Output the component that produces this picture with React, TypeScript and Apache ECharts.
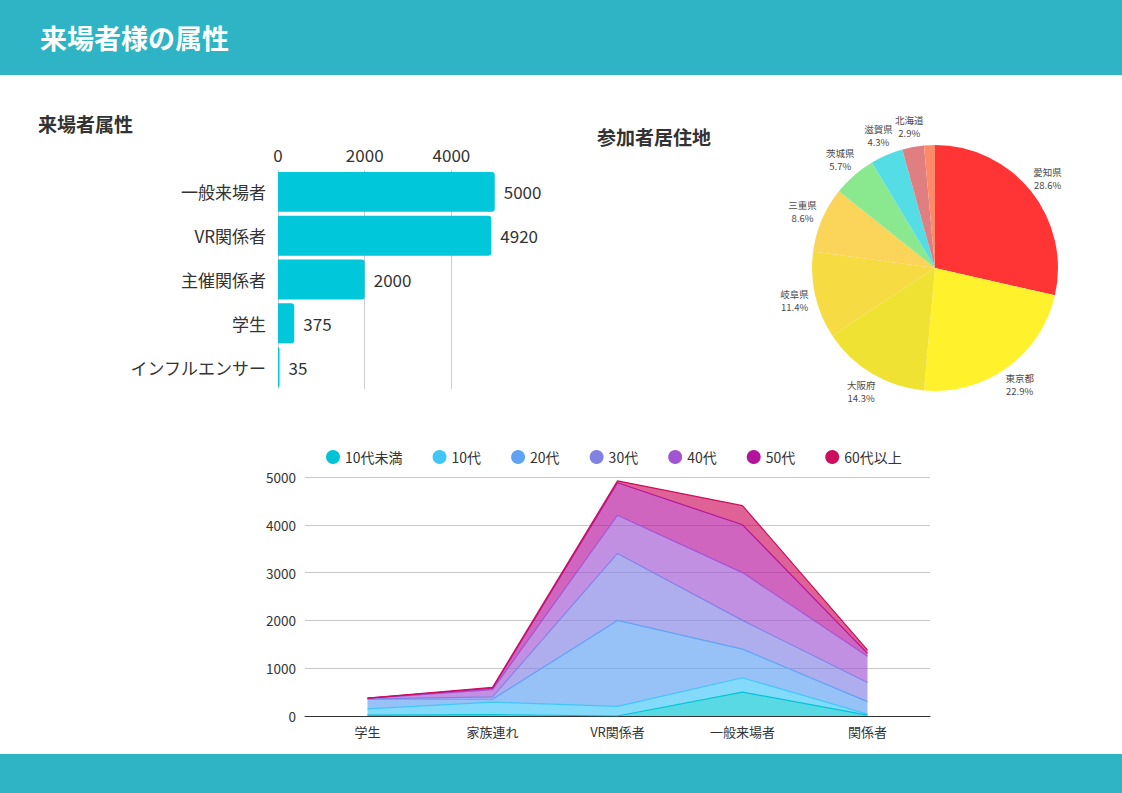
import React, { useEffect, useRef } from "react";
import * as echarts from "echarts";

const FONT = "'Noto Sans CJK JP', 'Noto Sans', sans-serif";

// Bar chart: 来場者属性
const barCategories = ["一般来場者", "VR関係者", "主催関係者", "学生", "インフルエンサー"];
const barValues = [5000, 4920, 2000, 375, 35];

// Pie chart: 参加者居住地
const pieNames = ["愛知県", "東京都", "大阪府", "岐阜県", "三重県", "茨城県", "滋賀県", "北海道", "その他"];
const pieValues = [20, 16, 10, 8, 6, 4, 3, 2, 1];
const pieColors = ["#ff3434", "#fff22c", "#f0e232", "#f6db42", "#fbd45a", "#8ae98f", "#55dde6", "#e07f82", "#ff8a6a"];

// Area chart: age breakdown
const areaCategories = ["学生", "家族連れ", "VR関係者", "一般来場者", "関係者"];
const ageNames = ["10代未満", "10代", "20代", "30代", "40代", "50代", "60代以上"];
const ageColors = ["#00c4d6", "#42c6f8", "#60a2f4", "#8282e6", "#a254d2", "#b5139c", "#cc0e5c"];
const age10u = [20, 30, 0, 500, 20];
const age10 = [130, 260, 200, 300, 20];
const age20 = [200, 60, 1800, 600, 260];
const age30 = [10, 50, 1400, 600, 400];
const age40 = [10, 150, 800, 1000, 550];
const age50 = [3, 30, 680, 1000, 60];
const age60 = [2, 20, 40, 400, 70];
const ageSeries = [age10u, age10, age20, age30, age40, age50, age60];

const TEAL = "#2eb4c4";

export default function App() {
  const ref = useRef<HTMLDivElement>(null);
  useEffect(() => {
    if (!ref.current) return;
    const chart = echarts.init(ref.current, undefined, { renderer: "svg" });
    const pieTotal = pieValues.reduce((a, b) => a + b, 0);
    const plain = (v: number) => String(v);
    const option: any = {
      animation: false,
      backgroundColor: "#ffffff",
      textStyle: { fontFamily: FONT },
      graphic: [
        { type: "rect", shape: { x: 0, y: 0, width: 1122, height: 75 }, style: { fill: TEAL }, silent: true },
        { type: "rect", shape: { x: 0, y: 754, width: 1122, height: 39 }, style: { fill: TEAL }, silent: true },
        {
          type: "text", x: 40, y: 37,
          style: { text: "来場者様の属性", fill: "#ffffff", font: `bold 27px ${FONT}`, textVerticalAlign: "middle" },
        },
        {
          type: "text", x: 38, y: 123,
          style: { text: "来場者属性", fill: "#333333", font: `bold 19px ${FONT}`, textVerticalAlign: "middle" },
        },
        {
          type: "text", x: 597, y: 136,
          style: { text: "参加者居住地", fill: "#333333", font: `bold 19px ${FONT}`, textVerticalAlign: "middle" },
        },
      ],
      legend: {
        data: ageNames,
        left: 321,
        top: 445,
        icon: "circle",
        itemWidth: 14,
        itemHeight: 14,
        itemGap: 30,
        textStyle: { fontSize: 14, color: "#333333", fontFamily: FONT },
      },
      grid: [
        { left: 278, top: 170, width: 216.75, height: 219, containLabel: false },
        { left: 305, top: 477, right: 192, bottom: 77, containLabel: false },
      ],
      xAxis: [
        {
          type: "value", gridIndex: 0, position: "top", min: 0, max: 5000, interval: 2000,
          axisLine: { show: false }, axisTick: { show: false },
          axisLabel: { fontSize: 17, color: "#333333", margin: 7, showMaxLabel: false, fontFamily: FONT, formatter: plain },
          splitLine: { show: true, showMaxLine: false, lineStyle: { color: "#cccccc", width: 1 } },
        },
        {
          type: "category", gridIndex: 1, data: areaCategories, boundaryGap: true,
          axisLine: { show: true, lineStyle: { color: "#333333", width: 1 } },
          axisTick: { show: false },
          axisLabel: { fontSize: 13, color: "#333333", margin: 9, fontFamily: FONT },
        },
      ],
      yAxis: [
        {
          type: "category", gridIndex: 0, data: barCategories, inverse: true,
          axisLine: { show: false }, axisTick: { show: false },
          axisLabel: { fontSize: 17, color: "#333333", margin: 12, fontFamily: FONT },
        },
        {
          type: "value", gridIndex: 1, min: 0, max: 5000, interval: 1000,
          axisLine: { show: false }, axisTick: { show: false },
          axisLabel: { fontSize: 13.5, color: "#333333", margin: 9, fontFamily: FONT, formatter: plain },
          splitLine: { show: true, lineStyle: { color: "#c8c8c8", width: 1 } },
        },
      ],
      series: [
        {
          type: "bar", xAxisIndex: 0, yAxisIndex: 0, data: barValues,
          barCategoryGap: "9%",
          itemStyle: { color: "#00c7da", borderRadius: [0, 3, 3, 0] },
          label: { show: true, position: "right", distance: 9, fontSize: 17, color: "#333333", fontFamily: FONT },
        },
        {
          type: "pie",
          center: [935, 268],
          radius: 123,
          startAngle: 90,
          clockwise: true,
          data: pieNames.map((n, i) => ({
            name: n,
            value: pieValues[i],
            itemStyle: { color: pieColors[i] },
          })),
          label: { show: false },
          labelLine: { show: false },
          emphasis: { disabled: true },
        },
        {
          type: "pie",
          center: [935, 268],
          radius: [123, 159],
          startAngle: 90,
          clockwise: true,
          silent: true,
          data: pieNames.map((n, i) => ({
            name: n,
            value: pieValues[i],
            itemStyle: { color: "rgba(0,0,0,0)" },
            label: { show: i < 8 },
          })),
          label: {
            show: true,
            position: "inside",
            formatter: (p: any) => `${p.name}\n${((p.value / pieTotal) * 100).toFixed(1)}%`,
            fontSize: 9.5,
            lineHeight: 13,
            color: "#4a4a4a",
            fontFamily: FONT,
            align: "center",
          },
          labelLine: { show: false },
          emphasis: { disabled: true },
        },
        ...ageNames.map((n, i) => ({
          type: "line",
          name: n,
          xAxisIndex: 1,
          yAxisIndex: 1,
          stack: "age",
          data: ageSeries[i],
          color: ageColors[i],
          symbol: "none",
          showSymbol: false,
          lineStyle: { width: 1.2, color: ageColors[i] },
          areaStyle: { color: ageColors[i], opacity: 0.65 },
        })),
      ],
    };
    chart.setOption(option);
    return () => chart.dispose();
  }, []);
  return (
    <div
      ref={ref}
      style={{ position: "absolute", left: 0, top: 0, width: 1122, height: 793 }}
    />
  );
}
